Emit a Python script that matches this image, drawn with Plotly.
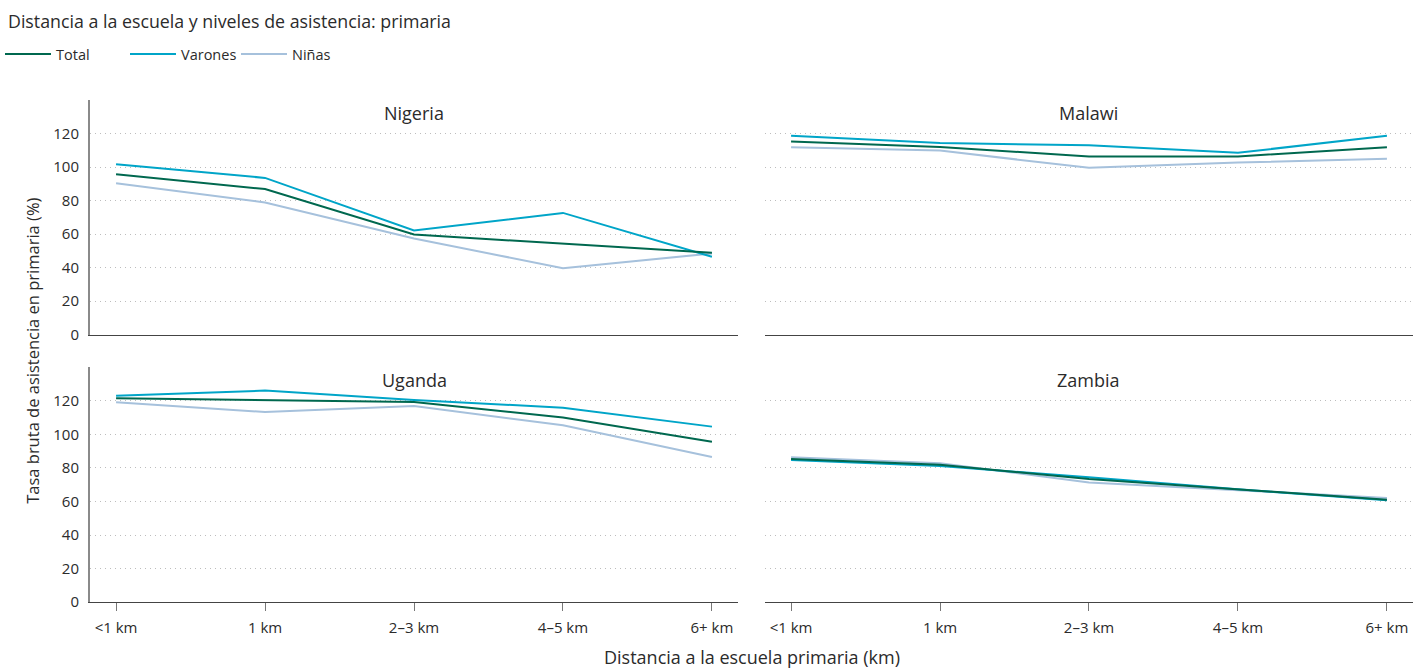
import plotly.graph_objects as go
from plotly.subplots import make_subplots

categories = ["<1 km", "1 km", "2–3 km", "4–5 km", "6+ km"]
countries = ["Nigeria", "Malawi", "Uganda", "Zambia"]

nigeria_total = [95.7, 86.8, 59.7, 54.1, 48.8]
nigeria_varones = [101.7, 93.5, 62.1, 72.6, 46.4]
nigeria_ninas = [90.3, 78.8, 57.3, 39.6, 48.4]

malawi_total = [115.2, 112.0, 106.3, 106.3, 111.8]
malawi_varones = [118.6, 114.3, 113.0, 108.5, 118.6]
malawi_ninas = [111.8, 109.8, 99.5, 102.7, 104.9]

uganda_total = [121.6, 120.6, 119.4, 110.2, 95.7]
uganda_varones = [123.2, 126.2, 120.6, 116.0, 104.7]
uganda_ninas = [119.2, 113.4, 117.0, 105.5, 86.6]

zambia_total = [85.4, 82.0, 73.4, 67.3, 61.1]
zambia_varones = [84.8, 81.2, 74.4, 67.3, 60.7]
zambia_ninas = [86.4, 82.8, 71.4, 66.9, 62.1]

series_names = ["Total", "Varones", "Niñas"]
colors = {"Total": "#00684f", "Varones": "#00a5c8", "Niñas": "#a6c1dc"}

data = {
    "Nigeria": {"Total": nigeria_total, "Varones": nigeria_varones, "Niñas": nigeria_ninas},
    "Malawi": {"Total": malawi_total, "Varones": malawi_varones, "Niñas": malawi_ninas},
    "Uganda": {"Total": uganda_total, "Varones": uganda_varones, "Niñas": uganda_ninas},
    "Zambia": {"Total": zambia_total, "Varones": zambia_varones, "Niñas": zambia_ninas},
}
positions = {"Nigeria": (1, 1), "Malawi": (1, 2), "Uganda": (2, 1), "Zambia": (2, 2)}
legend_ids = {"Total": "legend", "Varones": "legend2", "Niñas": "legend3"}

FONT = "'Open Sans', 'Noto Sans', sans-serif"
TXT = "#2b2b2b"

fig = make_subplots(rows=2, cols=2, horizontal_spacing=0.0204, vertical_spacing=0.0657)

xi = list(range(len(categories)))
for c in countries:
    r, col = positions[c]
    for s in ["Niñas", "Varones", "Total"]:
        fig.add_trace(
            go.Scatter(
                x=xi, y=data[c][s], mode="lines", name=s,
                line=dict(color=colors[s], width=2),
                showlegend=(c == "Nigeria"),
                legend=legend_ids[s],
                hoverinfo="skip",
            ),
            row=r, col=col,
        )

for c in countries:
    r, col = positions[c]
    fig.update_xaxes(
        row=r, col=col,
        range=[-0.175, 4.175],
        tickvals=xi,
        ticktext=categories if r == 2 else [""] * 5,
        showticklabels=(r == 2),
        ticks="outside" if r == 2 else "",
        ticklen=8, tickcolor="#777", tickwidth=1,
        ticklabelstandoff=4,
        showline=True, linecolor="#444", linewidth=1,
        showgrid=False, zeroline=False,
        tickfont=dict(family=FONT, size=15, color=TXT),
        automargin=False,
    )
    fig.update_yaxes(
        row=r, col=col,
        range=[0, 140],
        tickvals=[0, 20, 40, 60, 80, 100, 120],
        showticklabels=(col == 1),
        showline=(col == 1), linecolor="#8a8a8a", linewidth=2,
        showgrid=True, gridcolor="#bdbdbd", griddash="1px,4px", gridwidth=1,
        zeroline=False,
        ticks="",
        ticklabelstandoff=6,
        tickfont=dict(family=FONT, size=15, color=TXT),
        automargin=False,
    )
    xref = "x domain" if (r, col) == (1, 1) else f"x{(r - 1) * 2 + col} domain"
    yref = xref.replace("x", "y")
    fig.add_annotation(
        text=c, xref=xref, yref=yref, x=0.5, y=0.945,
        showarrow=False, xanchor="center", yanchor="middle",
        font=dict(family=FONT, size=18, color=TXT),
    )

fig.add_annotation(
    text="Tasa bruta de asistencia en primaria (%)",
    xref="paper", yref="paper", x=-0.044, y=0.5, textangle=-90,
    showarrow=False, xanchor="center", yanchor="middle",
    font=dict(family=FONT, size=16.5, color=TXT),
)
fig.add_annotation(
    text="Distancia a la escuela primaria (km)",
    xref="paper", yref="paper", x=0.5, y=-0.11,
    showarrow=False, xanchor="center", yanchor="middle",
    font=dict(family=FONT, size=18, color=TXT),
)

legend_common = dict(
    orientation="h", xref="container", yref="container",
    xanchor="left", y=1 - 54 / 669, yanchor="middle",
    font=dict(family=FONT, size=14.5, color=TXT),
    itemwidth=46, bgcolor="rgba(0,0,0,0)",
)

fig.update_layout(
    width=1427, height=669,
    margin=dict(l=90, r=14, t=100, b=67, autoexpand=False),
    paper_bgcolor="white", plot_bgcolor="white",
    title=dict(
        text="Distancia a la escuela y niveles de asistencia: primaria",
        x=0.0056, xanchor="left", y=0.967, yanchor="middle",
        font=dict(family=FONT, size=17.8, color=TXT),
    ),
    legend=dict(x=0.0, **legend_common),
    legend2=dict(x=125 / 1427, **legend_common),
    legend3=dict(x=236 / 1427, **legend_common),
    font=dict(family=FONT),
)

fig.write_html(
    "out.html",
    config={"displayModeBar": False},
    post_script="document.body.style.margin='0';document.body.style.overflow='hidden';",
)
